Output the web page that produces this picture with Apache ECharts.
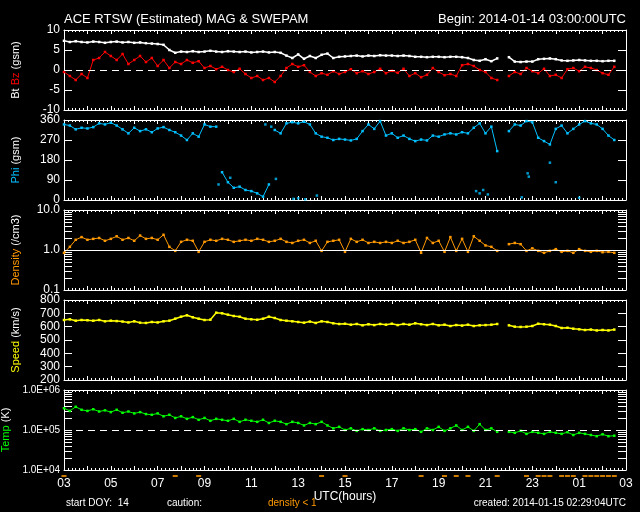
<!DOCTYPE html>
<html><head><meta charset="utf-8">
<script src="https://cdn.jsdelivr.net/npm/echarts@6/dist/echarts.min.js"></script>
<style>html,body{margin:0;padding:0;background:#000;}#c{width:640px;height:512px;}</style>
</head><body><div id="c"></div>
<script>
// sampling step (hours after 2014-01-14 03:00 UTC)
const STEP_H = 0.25;
const xTickHours = [0,2,4,6,8,10,12,14,16,18,20,22,24];

const btValues = [
 7.3,7.0,7.2,7.0,6.9,7.1,7.0,6.8,
 7.0,7.1,6.9,7.0,6.8,6.9,6.7,6.6,
 6.5,6.3,5.0,4.3,4.6,4.5,4.7,4.5,
 4.6,4.8,4.6,4.5,4.7,4.6,4.5,4.6,
 4.4,4.5,4.6,4.4,4.5,4.3,3.6,3.0,
 3.9,2.8,3.5,3.0,3.8,4.1,3.0,3.3,
 3.4,3.5,3.6,3.4,3.6,3.5,3.7,3.6,
 3.6,3.5,3.6,3.5,3.3,3.3,3.2,3.3,
 3.3,3.2,3.3,3.3,3.2,3.0,2.5,2.3,
 2.7,2.2,2.9,null,3.2,2.1,2.0,2.1,
 2.1,2.7,2.8,2.9,2.7,2.4,2.3,2.4,
 2.5,2.4,2.3,2.3,2.2,2.3,2.3,null,
 null];

const bzValues = [
 -0.5,-1.5,-2.5,-1.0,-2.0,2.5,3.0,4.5,
 3.5,2.5,4.0,1.5,2.5,3.5,2.0,3.0,
 1.0,2.5,0.5,2.0,1.5,2.5,1.8,2.2,
 0.5,1.0,0.2,0.8,0.0,-0.5,0.3,-1.0,
 -2.0,-1.5,-2.5,-2.0,-3.0,-1.5,0.5,1.5,
 0.8,1.2,-0.5,-1.5,-0.8,-1.2,-0.3,-1.0,
 -0.5,0.2,-0.8,-0.3,-1.0,-0.5,0.3,-0.8,
 -0.2,-0.7,0.3,-1.5,-0.8,-1.8,-1.2,0.5,
 -0.5,-1.3,-1.0,-1.5,1.2,1.5,1.0,0.0,
 -0.5,-2.0,-2.5,null,-1.5,-0.5,-1.0,0.5,
 -0.3,-0.8,0.3,-1.5,-1.2,-2.0,0.2,0.5,
 -0.3,0.8,0.5,0.0,-0.8,-1.2,0.8,null,
 null];

const phiValues = [
 340,335,318,325,322,328,345,340,
 348,335,318,300,325,310,318,305,
 322,328,315,305,290,270,300,285,
 340,330,330,125,80,55,60,45,
 40,30,15,70,315,300,345,350,
 345,352,340,300,285,280,270,275,
 272,268,275,310,340,320,355,290,
 300,280,290,275,265,272,268,290,
 285,295,300,295,305,300,325,345,
 300,330,220,null,310,340,335,355,
 350,280,265,250,320,335,300,320,
 340,355,345,340,320,290,270,null,
 null];
const phiAltHours  = [6.6,7.1,8.6,8.85,9.05,9.8,10.0,10.3,10.8,17.6,17.75,17.9,18.1,19.55,19.8,19.85,20.75,21.0,22.0];
const phiAltValues = [70,100,340,330,95,5,8,3,20,40,30,45,25,12,120,105,168,80,10];

const densityValues = [
 0.85,1.2,1.8,2.1,1.8,1.9,2.0,1.7,
 1.9,2.2,1.8,2.0,1.7,2.3,1.9,2.0,
 1.8,2.4,1.2,0.95,1.6,1.8,1.7,0.9,
 1.6,1.8,1.7,1.9,1.8,1.6,1.7,1.8,
 1.7,1.9,1.8,1.6,1.7,1.9,1.6,1.5,
 1.7,1.8,1.5,1.7,0.95,1.6,1.7,1.8,
 0.9,1.9,1.6,1.8,1.5,1.6,1.5,1.6,
 1.5,1.7,1.5,1.6,1.8,0.85,2.0,1.5,
 1.7,0.9,2.1,0.95,1.9,0.9,2.2,1.7,
 1.3,1.2,0.95,null,1.4,1.5,1.4,0.95,
 1.1,0.95,0.85,0.95,1.05,0.9,0.95,0.85,
 1.05,0.95,0.9,0.95,0.88,0.9,0.85,null,
 null];

const speedValues = [
 650,655,645,650,648,645,650,640,
 645,642,638,632,640,630,628,635,
 632,640,645,660,675,685,670,660,
 650,652,705,700,690,680,675,660,
 655,652,660,675,665,650,645,640,
 635,630,638,628,640,635,625,620,
 622,615,620,610,618,612,620,615,
 622,612,620,615,625,618,612,620,
 610,615,605,612,608,615,605,610,
 612,615,620,null,610,600,598,600,
 605,622,618,615,605,590,592,585,
 580,575,578,572,575,572,578,null,
 null];

const tempValues = [
 3.5e5,3.0e5,3.8e5,3.2e5,3.0e5,3.3e5,2.9e5,3.1e5,
 2.8e5,3.2e5,2.7e5,2.9e5,2.6e5,2.8e5,2.5e5,2.4e5,
 2.6e5,2.2e5,2.4e5,2.0e5,2.2e5,1.9e5,2.1e5,1.8e5,
 2.0e5,1.7e5,1.9e5,1.8e5,1.7e5,1.9e5,1.6e5,1.8e5,
 1.7e5,1.6e5,1.8e5,1.5e5,1.7e5,1.6e5,1.4e5,1.6e5,
 1.5e5,1.3e5,1.5e5,1.4e5,1.6e5,1.3e5,1.1e5,1.2e5,
 1.0e5,1.1e5,0.95e5,1.05e5,1.0e5,1.1e5,0.95e5,1.0e5,
 1.05e5,0.95e5,1.1e5,1.0e5,1.05e5,0.9e5,1.1e5,1.0e5,
 1.2e5,0.95e5,1.1e5,1.3e5,1.0e5,1.2e5,0.95e5,1.4e5,
 1.0e5,1.1e5,0.9e5,null,0.9e5,0.85e5,0.95e5,0.8e5,
 0.9e5,0.85e5,0.8e5,0.9e5,0.85e5,0.8e5,0.88e5,0.75e5,
 0.85e5,0.8e5,0.75e5,0.7e5,0.78e5,0.7e5,0.72e5,null,
 null];

const FONT = '"Liberation Sans", Arial, sans-serif';
const WHITE = '#ffffff';
const C = {bz:'#ff0000', phi:'#00c0ff', den:'#ff9900', spd:'#ffff00', tmp:'#00ff00'};

function pad(n){ return (n<10?'0':'')+n; }
function series2d(vals, wrapJump){
  const out = [];
  for (let i=0;i<vals.length;i++){
    const h = i*STEP_H, v = vals[i];
    if (wrapJump && i>0 && v!=null && vals[i-1]!=null && Math.abs(v-vals[i-1])>wrapJump) out.push([h-STEP_H/2,'-']);
    out.push([h, v==null?'-':v]);
  }
  return out;
}

const tops = [30,120,210,300,390];
const grids = tops.map(t=>({left:64, top:t, width:562, height:80, outerBoundsMode:'none'}));
grids.push({left:64, top:474, width:562, height:4, outerBoundsMode:'none'});

const xAxes = [];
tops.forEach((t,i)=>{
  ['bottom','top'].forEach(pos=>{
    const lab = (i===4 && pos==='bottom');
    xAxes.push({type:'value', gridIndex:i, position:pos, min:0, max:24, interval:1,
      axisLine:{show:true, onZero:false, lineStyle:{color:WHITE, width:1}},
      axisTick:{show:true, inside:true, length:4, lineStyle:{color:WHITE}},
      minorTick:{show:true, splitNumber:6, length:2, lineStyle:{color:WHITE}},
      splitLine:{show:false}, minorSplitLine:{show:false},
      axisLabel:{show:lab, color:WHITE, fontSize:12, fontFamily:FONT, margin:8,
        customValues: xTickHours, formatter: v => pad((3+Math.round(v))%24)},
      name: lab?'UTC(hours)':'', nameLocation:'middle', nameGap:20,
      nameTextStyle:{color:WHITE, fontSize:12, fontFamily:FONT}
    });
  });
});
xAxes.push({type:'value', gridIndex:5, min:0, max:24, show:false});

const rich = {
  w:{color:WHITE, fontSize:11, fontFamily:FONT},
  r:{color:C.bz, fontSize:11, fontFamily:FONT},
  c:{color:C.phi, fontSize:11, fontFamily:FONT},
  o:{color:C.den, fontSize:11, fontFamily:FONT},
  y:{color:C.spd, fontSize:11, fontFamily:FONT},
  g:{color:C.tmp, fontSize:11, fontFamily:FONT}
};
const panels = [
  {type:'value', min:-10, max:10, interval:5, fmt:v=>String(v), name:'{w|Bt} {r|Bz} {w|(gsm)}'},
  {type:'value', min:0, max:360, interval:90, fmt:v=>String(v), name:'{c|Phi} {w|(gsm)}'},
  {type:'log', min:0.1, max:10, fmt:v=>v.toFixed(1), name:'{o|Density} {w|(/cm3)}',
    ticks:[0.2,0.3,0.4,0.5,0.6,0.7,0.8,0.9,1,2,3,4,5,6,7,8,9]},
  {type:'value', min:200, max:800, interval:100, fmt:v=>String(v), name:'{y|Speed} {w|(km/s)}'},
  {type:'log', min:1e4, max:1e6, fmt:v=>'1.0E+0'+Math.round(Math.log10(v)), name:'{g|Temp} {w|(K)}', small:true,
    ticks:[2e4,3e4,4e4,5e4,6e4,7e4,8e4,9e4,1e5,2e5,3e5,4e5,5e5,6e5,7e5,8e5,9e5]}
];
const yAxes = [];
panels.forEach((p,i)=>{
  ['left','right'].forEach(pos=>{
    const ax = {type:p.type, gridIndex:i, position:pos, min:p.min, max:p.max,
      axisLine:{show:true, onZero:false, lineStyle:{color:WHITE, width:1}},
      axisTick:{show:true, inside:true, length:8, lineStyle:{color:WHITE}},
      splitLine:{show:false},
      axisLabel:{show:pos==='left', color:WHITE, fontSize:p.small?10:12, fontFamily:FONT, margin:4, formatter:p.fmt}
    };
    if (p.interval) ax.interval = p.interval;
    if (p.type==='log') ax.logBase = 10;
    if (p.ticks) ax.axisTick.customValues = p.ticks;
    if (pos==='left'){
      ax.name = p.name; ax.nameLocation='middle'; ax.nameGap=43; ax.nameRotate=90;
      ax.nameTextStyle = {rich:rich, color:WHITE, fontSize:11, fontFamily:FONT};
    }
    yAxes.push(ax);
  });
});
yAxes.push({type:'value', gridIndex:5, min:0, max:1, show:false});

function lineS(i, data, color, width, extra){
  return Object.assign({type:'line', xAxisIndex:2*i, yAxisIndex:2*i, data:data,
    showSymbol:true, showAllSymbol:true, symbol:'rect', symbolSize:2.5,
    lineStyle:{color:color, width:width}, itemStyle:{color:color}, connectNulls:false, animation:false, silent:true, z:3}, extra||{});
}
const dashML = (val, type)=>({silent:true, symbol:'none', label:{show:false}, animation:false,
  lineStyle:{color:WHITE, width:1, type:type}, data:[{yAxis:val}]});

const cautionData = [];
densityValues.forEach((v,i)=>{ if (v!=null && v<1) cautionData.push([i*STEP_H, 0.5]); });

const series = [
  lineS(0, series2d(btValues), WHITE, 1.5),
  lineS(0, series2d(bzValues), C.bz, 1, {markLine: dashML(0,[7,5])}),
  lineS(1, series2d(phiValues, 150), C.phi, 1),
  {type:'scatter', xAxisIndex:2, yAxisIndex:2, data: phiAltHours.map((h,k)=>[h, phiAltValues[k]]),
    symbol:'rect', symbolSize:2.5, itemStyle:{color:C.phi}, animation:false, silent:true},
  lineS(2, series2d(densityValues), C.den, 1, {markLine: dashML(1,'solid')}),
  lineS(3, series2d(speedValues), C.spd, 1.5),
  lineS(4, series2d(tempValues), C.tmp, 1, {markLine: dashML(1e5,[7,5])}),
  {type:'scatter', xAxisIndex:10, yAxisIndex:10, data:cautionData, symbol:'rect', symbolSize:[5,2],
    itemStyle:{color:C.den}, animation:false, silent:true}
];

const txt = (text, x, y, align, color, size)=>({type:'text', x:x, y:y, silent:true,
  style:{text:text, x:0, y:0, align:align, verticalAlign:'middle', fill:color, font:size+'px '+FONT}});

const chart = echarts.init(document.getElementById('c'), null, {renderer:'canvas'});
chart.setOption({
  backgroundColor:'#000000',
  animation:false,
  textStyle:{fontFamily:FONT},
  grid: grids, xAxis: xAxes, yAxis: yAxes, series: series,
  graphic: [
    txt('ACE RTSW (Estimated) MAG & SWEPAM', 64, 19, 'left', WHITE, 13),
    txt('Begin: 2014-01-14 03:00:00UTC', 626, 19, 'right', WHITE, 13),
    txt('start DOY:  14', 66, 503, 'left', WHITE, 10),
    txt('caution:', 167, 503, 'left', WHITE, 10),
    txt('density < 1', 268, 503, 'left', C.den, 10),
    txt('created: 2014-01-15 02:29:04UTC', 626, 503, 'right', WHITE, 10)
  ]
});
</script></body></html>
